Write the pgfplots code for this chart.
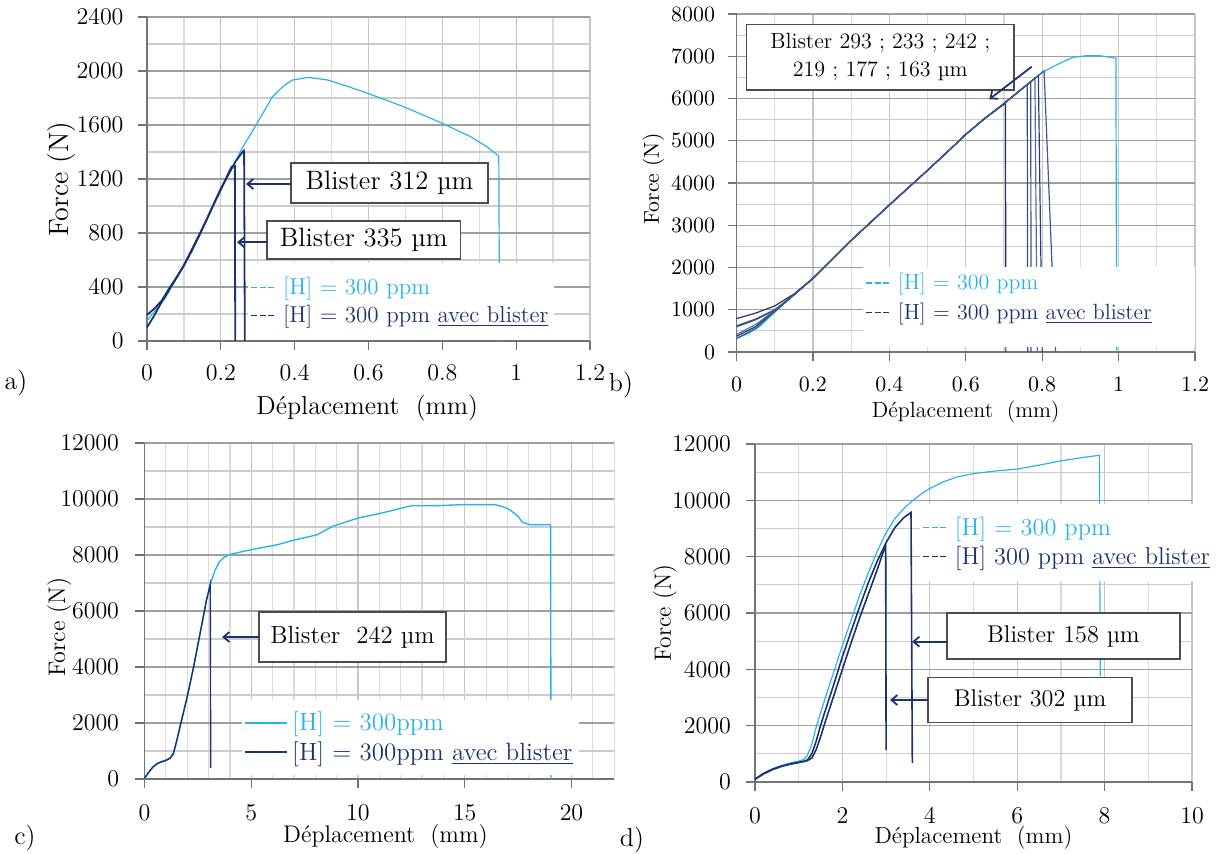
\documentclass[border=0pt]{standalone}
\usepackage{pgfplots}
\pgfplotsset{compat=1.18}
\usetikzlibrary{arrows.meta}
\definecolor{hlight}{RGB}{40,180,235}
\definecolor{hdark}{RGB}{28,52,110}
\definecolor{dA}{RGB}{31,56,100}
\definecolor{dB}{RGB}{47,80,140}
\definecolor{dC}{RGB}{68,84,120}
\definecolor{dD}{RGB}{90,110,155}
\definecolor{dE}{RGB}{38,64,120}
\definecolor{dF}{RGB}{60,90,145}
\pgfplotsset{
  panel/.style={
    scale only axis,
    axis x line=bottom, axis y line=left,
    every outer x axis line/.append style={-},
    every outer y axis line/.append style={-},
    every inner x axis line/.append style={-},
    every inner y axis line/.append style={-},
    axis line style={-, black!55, line width=0.6pt},
    tick align=outside,
    major tick length=4.5pt, minor tick length=0pt,
    tick style={black!55, line width=0.6pt},
    grid=both,
    major grid style={black!22, line width=0.6pt},
    minor grid style={black!14, line width=0.6pt},
    major y grid style={black!38},
    minor y grid style={black!20},
    scaled x ticks=false, scaled y ticks=false,
    /pgf/number format/1000 sep={},
    clip=false,
    legend cell align=left,
    legend style={draw=none, fill=white, anchor=north west, inner xsep=1pt},
  },
  dashimg/.style={legend image code/.code={\draw[##1, solid, dash pattern=on 3pt off 1.3pt, line width=0.75pt] (0pt,0pt) -- (11.6pt,0pt); \path (13.5pt,0pt);}},
  solidimg/.style={legend image code/.code={\draw[##1, solid, line width=0.9pt] (0pt,0pt) -- (21pt,0pt);}},
}
\tikzset{
  box/.style={draw=black!70, fill=white, line width=0.6pt, inner sep=0pt, align=center},
  arr/.style={hdark, line width=0.9pt, -{Straight Barb[length=3pt,width=5pt]}},
}
\newcommand{\dep}{Déplacement\hspace{0.3em} (mm)}
\begin{document}
\begin{tikzpicture}
\useasboundingbox (0,0) rectangle (615.5pt,-427pt);

% ---------------- panel a ----------------
\begin{axis}[panel, dashimg,
  anchor=south west, at={(73.5pt,-170.5pt)},
  width=221.5pt, height=162pt,
  xmin=0, xmax=1.2, ymin=0, ymax=2400,
  xtick={0,0.2,0.4,0.6,0.8,1,1.2},
  minor xtick={0.1,0.3,0.5,0.7,0.9,1.1},
  ytick={0,400,800,1200,1600,2000,2400},
  minor ytick={200,600,1000,1400,1800,2200},
  tick label style={font=\fontsize{11.5}{13}\selectfont},
  yticklabel style={xshift=-3.7pt},
  xticklabel style={yshift=-4pt},
  xlabel={\dep},
  ylabel={Force (N)},
  xlabel style={font=\fontsize{13}{15}\selectfont, at={(axis description cs:0.497,-0.207)}, anchor=center},
  ylabel style={font=\fontsize{14}{16}\selectfont, at={(axis description cs:-0.194,0.5)}, anchor=center},
  legend style={at={(0.228,0.241)}, inner ysep=5pt, font=\fontsize{11.5}{13}\selectfont},
]
\addplot[hlight, line width=0.6pt] coordinates {(0,150) (0.05,320) (0.1,560) (0.15,830) (0.2,1120) (0.255,1415) (0.298,1612) (0.34,1810) (0.37,1890) (0.394,1933) (0.437,1953) (0.49,1933) (0.55,1880) (0.597,1835) (0.65,1782) (0.694,1736) (0.75,1672) (0.80,1612) (0.876,1514) (0.92,1440) (0.946,1385) (0.953,1370) (0.955,0)};
\addlegendentry{\textcolor{hlight}{[H] = 300 ppm}}
\addplot[hdark, line width=0.9pt] coordinates {(0,101) (0.02,190) (0.04,290) (0.06,380) (0.08,470) (0.1,560) (0.12,660) (0.14,770) (0.16,890) (0.18,1010) (0.2,1130) (0.22,1230) (0.24,1330) (0.26,1405) (0.263,1410) (0.265,0)};
\addlegendentry{\textcolor{hdark}{[H] = 300 ppm \underline{avec blister}}}
\addplot[hdark, line width=0.9pt, forget plot] coordinates {(0,193) (0.02,240) (0.04,300) (0.06,390) (0.08,470) (0.1,560) (0.12,670) (0.14,780) (0.16,890) (0.18,1010) (0.2,1120) (0.22,1240) (0.229,1291) (0.238,1295) (0.239,0)};
\end{axis}

% ---------------- panel b ----------------
\begin{axis}[panel, dashimg,
  anchor=south west, at={(368.25pt,-176pt)},
  width=229.25pt, height=169pt,
  xmin=0, xmax=1.2, ymin=0, ymax=8000,
  xtick={0,0.2,0.4,0.6,0.8,1,1.2},
  minor xtick={0.1,0.3,0.5,0.7,0.9,1.1},
  ytick={0,1000,2000,3000,4000,5000,6000,7000,8000},
  minor ytick={500,1500,2500,3500,4500,5500,6500,7500},
  tick label style={font=\fontsize{11.4}{13}\selectfont},
  yticklabel style={xshift=-2.7pt},
  xticklabel style={yshift=-4.5pt},
  xlabel={\dep},
  ylabel={Force (N)},
  xlabel style={font=\fontsize{11}{13}\selectfont, at={(axis description cs:0.5,-0.178)}, anchor=center},
  ylabel style={font=\fontsize{10.8}{13}\selectfont, at={(axis description cs:-0.181,0.512)}, anchor=center},
  legend style={at={(0.276,0.252)}, inner ysep=1pt, font=\fontsize{11}{13}\selectfont, row sep=1pt},
]
\addplot[hlight, line width=0.6pt] coordinates {(0,330) (0.03,430) (0.06,600) (0.1,940) (0.15,1350) (0.2,1740) (0.25,2190) (0.3,2640) (0.35,3060) (0.4,3480) (0.45,3890) (0.5,4300) (0.55,4720) (0.6,5150) (0.65,5530) (0.7,5880) (0.75,6250) (0.8,6620) (0.846,6833) (0.881,6975) (0.916,7013) (0.95,7012) (0.986,6966) (0.993,6950) (0.995,0)};
\addlegendentry{\textcolor{hlight}{[H] = 300 ppm}}
\addplot[dA, line width=0.6pt] coordinates {(0,790) (0.05,920) (0.1,1090) (0.15,1370) (0.2,1750) (0.25,2190) (0.3,2640) (0.35,3060) (0.4,3480) (0.45,3890) (0.5,4300) (0.55,4720) (0.6,5150) (0.65,5530) (0.704,5886) (0.705,0)};
\addlegendentry{\textcolor{hdark}{[H] = 300 ppm \underline{avec blister}}}
\addplot[dB, line width=0.6pt, forget plot] coordinates {(0,620) (0.05,780) (0.1,1000) (0.15,1350) (0.2,1740) (0.25,2190) (0.3,2640) (0.35,3060) (0.4,3480) (0.45,3890) (0.5,4300) (0.55,4720) (0.6,5150) (0.65,5530) (0.7,5880) (0.75,6250) (0.761,6331) (0.762,0)};
\addplot[dC, line width=0.6pt, forget plot] coordinates {(0,595) (0.05,760) (0.1,990) (0.15,1350) (0.2,1740) (0.25,2190) (0.3,2640) (0.35,3060) (0.4,3480) (0.45,3890) (0.5,4300) (0.55,4720) (0.6,5150) (0.65,5530) (0.7,5880) (0.75,6250) (0.770,6398) (0.771,0)};
\addplot[dD, line width=0.6pt, forget plot] coordinates {(0,412) (0.05,650) (0.1,980) (0.15,1350) (0.2,1740) (0.25,2190) (0.3,2640) (0.35,3060) (0.4,3480) (0.45,3890) (0.5,4300) (0.55,4720) (0.6,5150) (0.65,5530) (0.7,5880) (0.75,6250) (0.781,6480) (0.787,0)};
\addplot[dE, line width=0.6pt, forget plot] coordinates {(0,371) (0.05,600) (0.1,970) (0.15,1350) (0.2,1740) (0.25,2190) (0.3,2640) (0.35,3060) (0.4,3480) (0.45,3890) (0.5,4300) (0.55,4720) (0.6,5150) (0.65,5530) (0.7,5880) (0.75,6250) (0.790,6546) (0.80,0)};
\addplot[dF, line width=0.6pt, forget plot] coordinates {(0,317) (0.05,560) (0.1,960) (0.15,1350) (0.2,1740) (0.25,2190) (0.3,2640) (0.35,3060) (0.4,3480) (0.45,3890) (0.5,4300) (0.55,4720) (0.6,5150) (0.65,5530) (0.7,5880) (0.75,6250) (0.805,6650) (0.835,0)};
\fill[white] (axis cs:0.33,130) rectangle (axis cs:1.2,2000);
\end{axis}

% ---------------- panel c ----------------
\begin{axis}[panel, solidimg,
  anchor=south west, at={(72.25pt,-389.5pt)},
  width=234.85pt, height=168pt,
  xmin=0, xmax=22, ymin=0, ymax=12000,
  xtick={0,5,10,15,20},
  minor xtick={1,2,3,4,6,7,8,9,11,12,13,14,16,17,18,19,21,22},
  ytick={0,2000,4000,6000,8000,10000,12000},
  minor ytick={1000,3000,5000,7000,9000,11000},
  tick label style={font=\fontsize{12}{14}\selectfont},
  yticklabel style={xshift=-4.7pt},
  xticklabel style={yshift=-5.2pt},
  xlabel={\dep},
  ylabel={Force (N)},
  xlabel style={font=\fontsize{12}{14}\selectfont, at={(axis description cs:0.513,-0.172)}, anchor=center},
  ylabel style={font=\fontsize{12}{14}\selectfont, at={(axis description cs:-0.182,0.452)}, anchor=center},
  legend style={at={(0.2076,0.237)}, inner ysep=4pt, font=\fontsize{12.5}{14}\selectfont},
]
\addplot[hlight, line width=0.7pt] coordinates {(0,30) (0.2,250) (0.4,440) (0.6,560) (0.8,630) (1.0,680) (1.2,760) (1.35,920) (1.5,1350) (1.66,1870) (2.0,2950) (2.3,4010) (2.6,5200) (2.9,6390) (3.1,7000) (3.3,7450) (3.5,7750) (3.7,7900) (4.0,8020) (5,8190) (6.24,8370) (7,8530) (8.08,8720) (8.8,9020) (10,9320) (11,9480) (11.77,9620) (12.5,9760) (13.6,9760) (15,9800) (16.4,9800) (16.8,9720) (17.1,9620) (17.5,9380) (17.7,9170) (18.05,9080) (18.97,9080) (19.02,9050) (19.04,0)};
\addlegendentry{\textcolor{hlight}{[H] = 300ppm}}
\addplot[hdark, line width=0.7pt] coordinates {(0,30) (0.2,240) (0.4,430) (0.6,550) (0.8,610) (1.0,660) (1.2,740) (1.35,900) (1.5,1330) (1.66,1850) (2.0,2930) (2.3,4000) (2.6,5180) (2.9,6370) (3.08,6950) (3.1,390)};
\addlegendentry{\textcolor{hdark}{[H] = 300ppm \underline{avec blister}}}
\end{axis}

% ---------------- panel d ----------------
\begin{axis}[panel, dashimg,
  anchor=south west, at={(377.5pt,-391pt)},
  width=218.5pt, height=169pt,
  xmin=0, xmax=10, ymin=0, ymax=12000,
  xtick={0,2,4,6,8,10},
  minor xtick={1,3,5,7,9},
  ytick={0,2000,4000,6000,8000,10000,12000},
  minor ytick={1000,3000,5000,7000,9000,11000},
  tick label style={font=\fontsize{12}{14}\selectfont},
  yticklabel style={xshift=-4pt},
  xticklabel style={yshift=-4.8pt},
  xlabel={\dep},
  ylabel={Force (N)},
  xlabel style={font=\fontsize{11.6}{14}\selectfont, at={(axis description cs:0.5,-0.166)}, anchor=center},
  ylabel style={font=\fontsize{11.8}{14}\selectfont, at={(axis description cs:-0.206,0.5)}, anchor=center},
  legend style={at={(0.3776,0.825)}, inner ysep=4.6pt, font=\fontsize{12.2}{14}\selectfont},
]
\addplot[hlight, line width=0.6pt] coordinates {(0,100) (0.1,220) (0.2,320) (0.3,400) (0.4,470) (0.5,530) (0.6,580) (0.7,630) (0.8,670) (0.9,710) (1.0,740) (1.1,790) (1.15,850) (1.2,950) (1.3,1350) (1.4,1950) (1.5,2450) (1.6,2950) (1.8,3900) (2.0,4850) (2.2,5750) (2.4,6650) (2.6,7450) (2.8,8200) (3.0,8850) (3.2,9350) (3.4,9700) (3.6,9980) (3.8,10220) (4.0,10420) (4.3,10650) (4.6,10820) (5.0,10950) (5.5,11040) (6.0,11110) (6.5,11250) (7.0,11400) (7.5,11520) (7.88,11600) (7.9,3750)};
\addlegendentry{\textcolor{hlight}{[H] = 300 ppm}}
\addplot[hdark, line width=0.8pt] coordinates {(0,100) (0.2,300) (0.4,450) (0.6,560) (0.8,640) (1.0,700) (1.1,730) (1.2,780) (1.3,1000) (1.4,1450) (1.5,2000) (1.6,2500) (1.8,3450) (2.0,4450) (2.2,5350) (2.4,6250) (2.6,7100) (2.8,7850) (3.0,8500) (3.2,9030) (3.4,9380) (3.57,9570) (3.6,680)};
\addlegendentry{\textcolor{hdark}{[H] 300 ppm \underline{avec blister}}}
\addplot[hdark, line width=0.8pt, forget plot] coordinates {(0,100) (0.2,290) (0.4,440) (0.6,550) (0.8,630) (1.0,690) (1.1,720) (1.2,760) (1.3,850) (1.4,1150) (1.5,1600) (1.6,2100) (1.8,3050) (2.0,4000) (2.2,4950) (2.4,5850) (2.6,6700) (2.8,7550) (2.99,8420) (3.0,1130)};
\end{axis}

% ---------------- annotations (pixel grid, 1px = 0.5pt) ----------------
\begin{scope}[x=0.5pt,y=-0.5pt]
\node[box, minimum width=98.5pt, minimum height=20pt, font=\fontsize{13.3}{15}\selectfont] at (389.5,183) {Blister 312 µm};
\draw[arr] (291,184) -- (246,184);
\node[box, minimum width=96.75pt, minimum height=19pt, font=\fontsize{13.3}{15}\selectfont] at (363.75,240) {Blister 335 µm};
\draw[arr] (267,242.3) -- (237,242.3);

\node[box, minimum width=133.6pt, minimum height=32.8pt, font=\fontsize{11}{14}\selectfont] at (880.3,57.2) {Blister 293 ; 233 ; 242 ;\\219 ; 177 ; 163 µm};
\draw[arr] (1031.7,66.7) -- (989.3,99.3);

\node[box, minimum width=93.5pt, minimum height=25pt, font=\fontsize{12.4}{14}\selectfont] at (352.5,637) {Blister~~242 µm};
\draw[arr] (259,637) -- (222,637);

\node[box, minimum width=116.5pt, minimum height=23pt, font=\fontsize{12.1}{14}\selectfont] at (1063.4,636) {Blister 158 µm};
\draw[arr] (946.8,641.7) -- (912,641.7);
\node[box, minimum width=102pt, minimum height=22.5pt, font=\fontsize{12.1}{14}\selectfont] at (1030,700.2) {Blister 302 µm};
\draw[arr] (928,700) -- (890,700);

\node[font=\fontsize{13}{15}\selectfont] at (16,383) {a)};
\node[font=\fontsize{13}{15}\selectfont] at (621,385) {b)};
\node[font=\fontsize{13}{15}\selectfont] at (25,838) {c)};
\node[font=\fontsize{13}{15}\selectfont] at (632,840) {d)};
\end{scope}
\end{tikzpicture}
\end{document}
